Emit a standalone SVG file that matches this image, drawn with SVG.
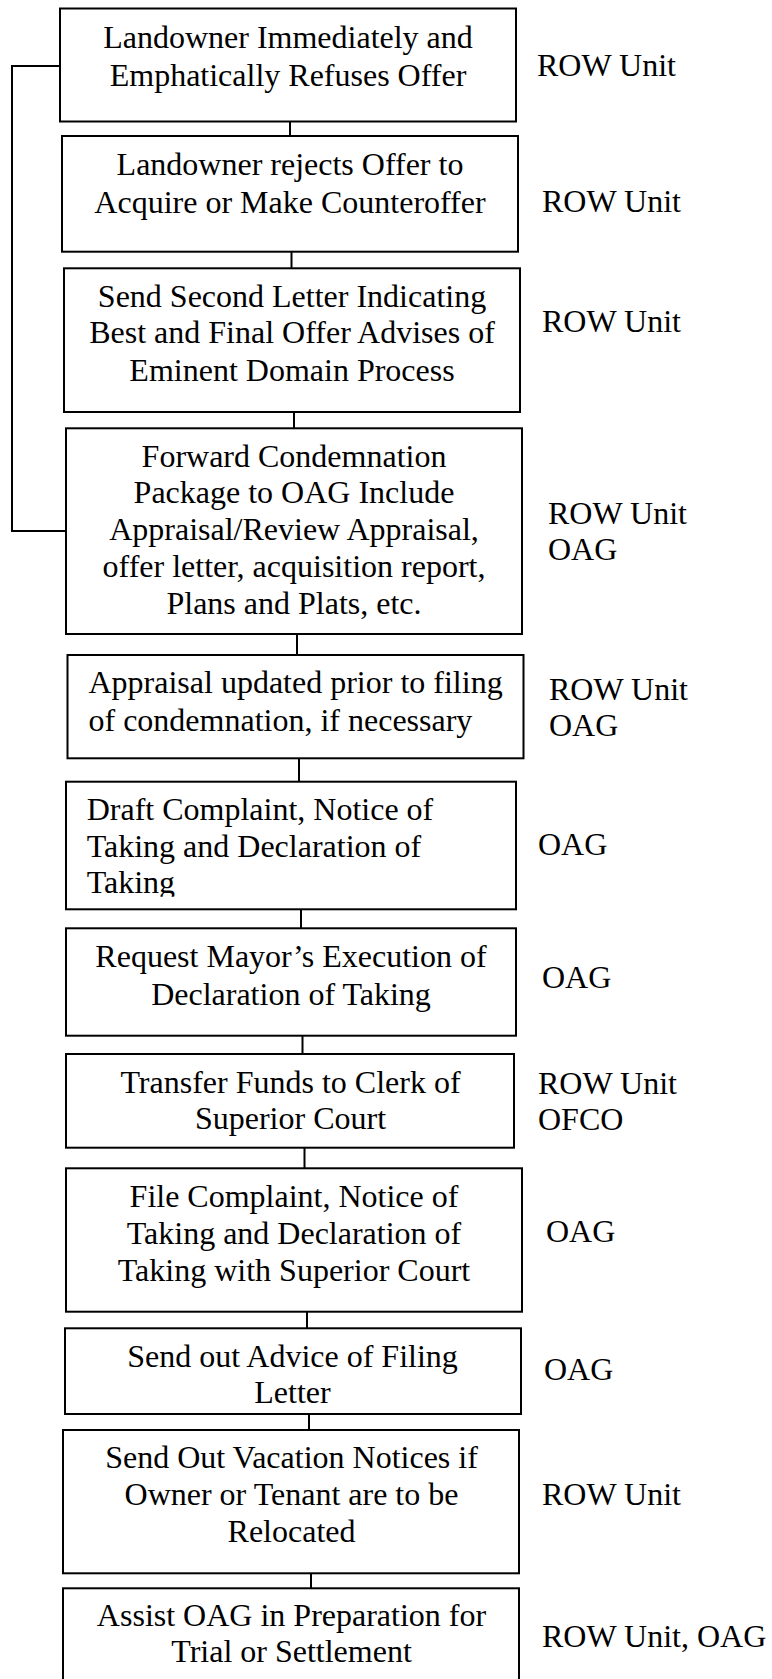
<svg xmlns="http://www.w3.org/2000/svg" width="772" height="1679" viewBox="0 0 772 1679">
<style>
.box{fill:#fff;stroke:#000;stroke-width:2}
.con{fill:none;stroke:#000;stroke-width:2}
text{font-family:"Liberation Serif","Times New Roman",serif;font-size:32px;fill:#000}
.c{text-anchor:middle}
</style>
<defs>
<clipPath id="clip6"><rect x="66" y="781" width="450" height="115.7"/></clipPath>
</defs>
<rect width="772" height="1679" fill="#fff"/>
<g id="connectors">
<path class="con" d="M66,531 H12 V66 H60"/>
<line class="con" x1="290" y1="121.5" x2="290" y2="136"/>
<line class="con" x1="291.5" y1="251.7" x2="291.5" y2="268.3"/>
<line class="con" x1="294" y1="412" x2="294" y2="428.3"/>
<line class="con" x1="297" y1="634" x2="297" y2="655"/>
<line class="con" x1="299" y1="758.3" x2="299" y2="781.7"/>
<line class="con" x1="301" y1="909.3" x2="301" y2="928.3"/>
<line class="con" x1="302.5" y1="1035.7" x2="302.5" y2="1054"/>
<line class="con" x1="304.5" y1="1147.7" x2="304.5" y2="1168.3"/>
<line class="con" x1="307" y1="1311.7" x2="307" y2="1328.3"/>
<line class="con" x1="309" y1="1414" x2="309" y2="1430"/>
<line class="con" x1="311" y1="1573.3" x2="311" y2="1588.3"/>
</g>
<g id="n1">
<rect class="box" x="60" y="8.5" width="456" height="113"/>
<text class="c" x="288" y="48">Landowner Immediately and</text>
<text class="c" x="288" y="86">Emphatically Refuses Offer</text>
<text x="537" y="76">ROW Unit</text>
</g>
<g id="n2">
<rect class="box" x="62" y="136" width="456" height="115.7"/>
<text class="c" x="290" y="175">Landowner rejects Offer to</text>
<text class="c" x="290" y="212.5">Acquire or Make Counteroffer</text>
<text x="542" y="211.7">ROW Unit</text>
</g>
<g id="n3">
<rect class="box" x="64" y="268.3" width="456" height="143.7"/>
<text class="c" x="292" y="306.7">Send Second Letter Indicating</text>
<text class="c" x="292" y="343.3">Best and Final Offer Advises of</text>
<text class="c" x="292" y="380.7">Eminent Domain Process</text>
<text x="542" y="331.7">ROW Unit</text>
</g>
<g id="n4">
<rect class="box" x="66" y="428.3" width="456" height="205.7"/>
<text class="c" x="294" y="466.7">Forward Condemnation</text>
<text class="c" x="294" y="503.3">Package to OAG Include</text>
<text class="c" x="294" y="540">Appraisal/Review Appraisal,</text>
<text class="c" x="294" y="576.7">offer letter, acquisition report,</text>
<text class="c" x="294" y="614">Plans and Plats, etc.</text>
<text x="548" y="524.3">ROW Unit</text>
<text x="548" y="560">OAG</text>
</g>
<g id="n5">
<rect class="box" x="67.5" y="655" width="456" height="103.3"/>
<text x="88.5" y="693.3">Appraisal updated prior to filing</text>
<text x="88.5" y="731">of condemnation, if necessary</text>
<text x="549" y="700">ROW Unit</text>
<text x="549" y="736">OAG</text>
</g>
<g id="n6">
<rect class="box" x="66" y="781.7" width="450" height="127.6"/>
<g clip-path="url(#clip6)">
<text x="86.7" y="820">Draft Complaint, Notice of</text>
<text x="86.7" y="856.7">Taking and Declaration of</text>
<text x="86.7" y="893.3">Taking</text>
</g>
<text x="538" y="855">OAG</text>
</g>
<g id="n7">
<rect class="box" x="66" y="928.3" width="450" height="107.4"/>
<text class="c" x="291" y="966.7">Request Mayor’s Execution of</text>
<text class="c" x="291" y="1005">Declaration of Taking</text>
<text x="542" y="988.3">OAG</text>
</g>
<g id="n8">
<rect class="box" x="66" y="1054" width="448" height="93.7"/>
<text class="c" x="290.5" y="1092.7">Transfer Funds to Clerk of</text>
<text class="c" x="290.5" y="1129.3">Superior Court</text>
<text x="538" y="1094">ROW Unit</text>
<text x="538" y="1130">OFCO</text>
</g>
<g id="n9">
<rect class="box" x="66" y="1168.3" width="456" height="143.4"/>
<text class="c" x="294" y="1206.7">File Complaint, Notice of</text>
<text class="c" x="294" y="1244">Taking and Declaration of</text>
<text class="c" x="294" y="1281">Taking with Superior Court</text>
<text x="546" y="1241.7">OAG</text>
</g>
<g id="n10">
<rect class="box" x="65" y="1328.3" width="456" height="85.7"/>
<text class="c" x="292.5" y="1366.7">Send out Advice of Filing</text>
<text class="c" x="292.5" y="1403.3">Letter</text>
<text x="544" y="1380">OAG</text>
</g>
<g id="n11">
<rect class="box" x="63" y="1430" width="456" height="143.3"/>
<text class="c" x="291.5" y="1468.3">Send Out Vacation Notices if</text>
<text class="c" x="291.5" y="1505">Owner or Tenant are to be</text>
<text class="c" x="291.5" y="1542.3">Relocated</text>
<text x="542" y="1505">ROW Unit</text>
</g>
<g id="n12">
<rect class="box" x="63" y="1588.3" width="456" height="110"/>
<text class="c" x="291.5" y="1626">Assist OAG in Preparation for</text>
<text class="c" x="291.5" y="1662">Trial or Settlement</text>
<text x="542" y="1646.7">ROW Unit, OAG</text>
</g>
</svg>
